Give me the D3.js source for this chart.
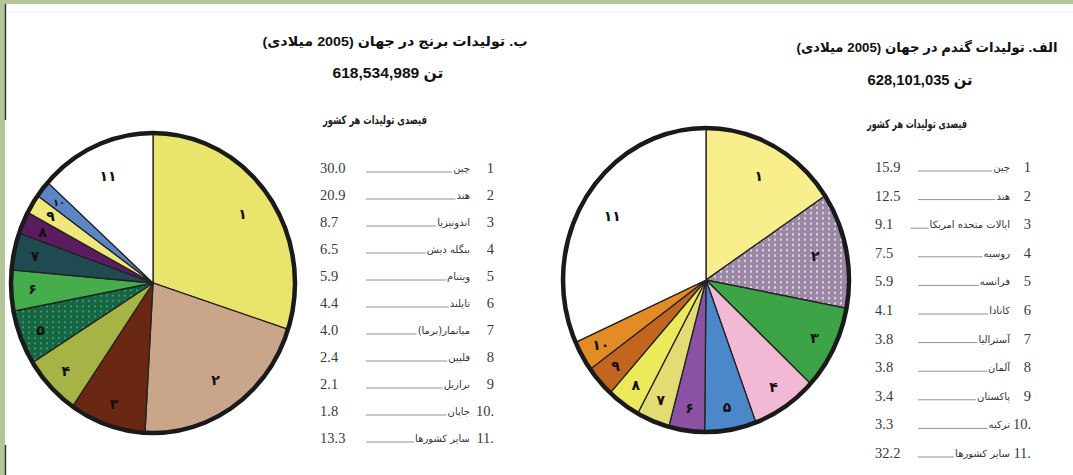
<html>
<head>
<meta charset="utf-8">
<script src="https://d3js.org/d3.v7.min.js"></script>
<style>
  body{ margin:0; background:#fff; }
  svg{ display:block; }
  .title{ font-family:"Liberation Sans","DejaVu Sans", sans-serif; font-weight:bold; font-size:13.5px; fill:#111; }
  .num2{ font-family:"Liberation Sans","DejaVu Sans", sans-serif; font-weight:bold; font-size:15px; fill:#111; }
  .sub{ font-family:"DejaVu Sans", sans-serif; font-weight:bold; font-size:12px; fill:#222; }
  .num{ font-family:"Liberation Serif", serif; font-size:14.5px; fill:#3a3a3a; }
  .name{ font-family:"DejaVu Sans", sans-serif; font-size:10px; fill:#333; }
  .plabel{ font-family:"DejaVu Sans", sans-serif; font-weight:bold; font-size:14px; fill:#111; }
</style>
</head>
<body>
<svg id="chart"></svg>
<script>
// rank numbers used in the tables and the Persian digits written in the slices
var rankLabels = ["1","2","3","4","5","6","7","8","9","10.","11."];
var sliceDigits = ["۱","۲","۳","۴","۵","۶","۷","۸","۹","۱۰","۱۱"];

// ب. rice production 2005
var riceNames = ["چین","هند","اندونیزیا","بنگله دیش","ویتنام","تایلند","میانمار(برما)","فلپین","برازیل","جاپان","سایر کشورها"];
var riceValues = [30.0, 20.9, 8.7, 6.5, 5.9, 4.4, 4.0, 2.4, 2.1, 1.8, 13.3];
var riceColors = ["#e8e46c","#c9a58a","#6a2812","#a6b445","url(#dotsGreen)","#45ad4b","#1f4a52","#5a1c5e","#efe77c","#5b86c6","#ffffff"];

// الف. wheat production 2005
var wheatNames = ["چین","هند","ایالات متحده امریکا","روسیه","فرانسه","کانادا","آسترالیا","آلمان","پاکستان","ترکیه","سایر کشورها"];
var wheatValues = [15.9, 12.5, 9.1, 7.5, 5.9, 4.1, 3.8, 3.8, 3.4, 3.3, 32.2];
var wheatColors = ["#f8ee8c","url(#dotsPurple)","#3ca446","#f2b9d6","#4c87c9","#8b52a3","#e2dc72","#ece95a","#c1651f","#e38b25","#ffffff"];

var W = 1073, H = 475;
var svg = d3.select("#chart").attr("width", W).attr("height", H);

// page frame like the scanned book page
svg.append("rect").attr("x",0).attr("y",0).attr("width",W).attr("height",H).attr("fill","#fff");
svg.append("rect").attr("x",0).attr("y",0).attr("width",W).attr("height",4).attr("fill","#b4c597");
svg.append("rect").attr("x",0).attr("y",0).attr("width",5).attr("height",H).attr("fill","#b4c597");
svg.append("line").attr("x1",5.5).attr("x2",5.5).attr("y1",4).attr("y2",120).attr("stroke","#333").attr("stroke-width",1.5);
svg.append("line").attr("x1",5.5).attr("x2",5.5).attr("y1",445).attr("y2",H).attr("stroke","#333").attr("stroke-width",1.5);
svg.append("line").attr("x1",6).attr("x2",W).attr("y1",12).attr("y2",12).attr("stroke","#eeeeee").attr("stroke-width",1);

// textures for the dotted slices
var defs = svg.append("defs");
var p1 = defs.append("pattern").attr("id","dotsGreen").attr("patternUnits","userSpaceOnUse").attr("width",6).attr("height",5);
p1.append("rect").attr("width",6).attr("height",5).attr("fill","#17663f");
p1.append("circle").attr("cx",2).attr("cy",2).attr("r",0.9).attr("fill","#3fa7a0");
var p2 = defs.append("pattern").attr("id","dotsPurple").attr("patternUnits","userSpaceOnUse").attr("width",6).attr("height",5);
p2.append("rect").attr("width",6).attr("height",5).attr("fill","#9a88a6");
p2.append("ellipse").attr("cx",3).attr("cy",2).attr("rx",1).attr("ry",1.4).attr("fill","#e7d6dc");

function drawPie(cx, cy, rx, ry, values, colors) {
  var pie = d3.pie().sort(null).value(function(d){ return d; });
  var arcs = pie(values);
  var arc = d3.arc().innerRadius(0).outerRadius(rx);
  var sy = ry / rx;
  var g = svg.append("g").attr("transform", "translate(" + cx + "," + cy + ") scale(1," + sy + ")");
  g.selectAll("path")
    .data(arcs)
    .enter()
    .append("path")
    .attr("d", arc)
    .attr("fill", function(d,i){ return colors[i]; })
    .attr("stroke", "#222")
    .attr("stroke-width", 1.3)
    .attr("vector-effect", "non-scaling-stroke");
  g.append("circle").attr("r", rx).attr("fill","none")
    .attr("stroke","#1a1a1a").attr("stroke-width",4.5)
    .attr("vector-effect","non-scaling-stroke");

  // labels: big slices a bit inward, thin ones near the rim
  function k(d){ return (d.endAngle - d.startAngle) > 0.6 ? 0.78 : 0.85; }
  svg.append("g").selectAll("text")
    .data(arcs)
    .enter()
    .append("text")
    .attr("class","plabel")
    .attr("text-anchor","middle")
    .attr("dominant-baseline","central")
    .attr("x", function(d){
      var a = (d.startAngle + d.endAngle) / 2;
      return cx + Math.sin(a) * rx * k(d);
    })
    .attr("y", function(d){
      var a = (d.startAngle + d.endAngle) / 2;
      return cy - Math.cos(a) * ry * k(d);
    })
    .style("font-size", function(d){ return (d.endAngle - d.startAngle) < 0.13 ? "10px" : "14px"; })
    .text(function(d,i){ return sliceDigits[i]; });
}

function drawTable(y0, step, xVal, xLead, xName, xRank, names, values) {
  var y = d3.scaleLinear().domain([0, names.length - 1]).range([y0, y0 + step * (names.length - 1)]);
  var g = svg.append("g");
  var rows = g.selectAll("g.row").data(names).enter().append("g").attr("class","row");
  rows.append("text").attr("class","num").attr("x", xRank).attr("y", function(d,i){ return y(i) + 5; })
    .attr("text-anchor","end").attr("direction","ltr").style("unicode-bidi","embed")
    .text(function(d,i){ return rankLabels[i]; });
  rows.append("text").attr("class","num").attr("x", xVal).attr("y", function(d,i){ return y(i) + 5; })
    .attr("text-anchor","start").text(function(d,i){ return values[i].toFixed(1); });
  var nm = rows.append("text").attr("class","name").attr("x", xName).attr("y", function(d,i){ return y(i) + 4; })
    .attr("text-anchor","start").attr("direction","rtl").text(function(d){ return d; });
  nm.each(function(d,i){
    var w = this.getComputedTextLength();
    var end = xName - w - 1;
    var start = Math.min(xLead, end - 18);
    d3.select(this.parentNode).append("line")
      .attr("x1", start).attr("x2", end)
      .attr("y1", y(i) + 4).attr("y2", y(i) + 4)
      .attr("stroke", "#777").attr("stroke-width", 0.8);
  });
}

drawPie(153, 283, 142, 150, riceValues, riceColors);
drawPie(706, 280, 143, 152, wheatValues, wheatColors);

// titles (fitted to the widths of the scanned lines)
function title(cls, x, y, len, str) {
  svg.append("text").attr("class", cls).attr("x", x).attr("y", y)
    .attr("text-anchor","middle").attr("direction","rtl")
    .attr("textLength", len).attr("lengthAdjust","spacingAndGlyphs")
    .text(str);
}
title("title", 395, 46, 265, "ب. تولیدات برنج در جهان (2005 میلادی)");
title("num2", 388, 78, 111, "تن 618,534,989");
title("sub", 375, 124, 104, "فیصدی تولیدات هر کشور");

title("title", 927, 52, 261, "الف. تولیدات گندم در جهان (2005 میلادی)");
title("num2", 920, 85, 105, "تن 628,101,035");
title("sub", 917, 128, 100, "فیصدی تولیدات هر کشور");

drawTable(168, 27, 320, 366, 470, 494, riceNames, riceValues);
drawTable(167, 28.6, 875, 918, 1010, 1031, wheatNames, wheatValues);
</script>
</body>
</html>
